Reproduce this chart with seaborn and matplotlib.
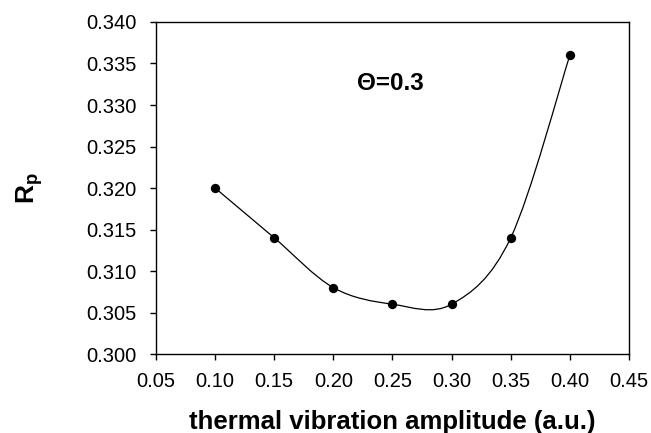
import matplotlib
matplotlib.use('Agg')
import matplotlib.pyplot as plt
import seaborn as sns
import pandas as pd
from matplotlib.path import Path
from matplotlib.patches import PathPatch
from matplotlib.ticker import FormatStrFormatter

# Data
amplitude = [0.10, 0.15, 0.20, 0.25, 0.30, 0.35, 0.40]
rp = [0.320, 0.314, 0.308, 0.306, 0.306, 0.314, 0.336]
x_ticks = [0.05, 0.10, 0.15, 0.20, 0.25, 0.30, 0.35, 0.40, 0.45]
y_ticks = [0.300, 0.305, 0.310, 0.315, 0.320, 0.325, 0.330, 0.335, 0.340]

df = pd.DataFrame({'amplitude': amplitude, 'rp': rp})

sns.set_style('white')
plt.rcParams['font.family'] = ['Liberation Sans', 'DejaVu Sans']
plt.rcParams['mathtext.fontset'] = 'custom'
plt.rcParams['mathtext.bf'] = 'Liberation Sans:bold'
plt.rcParams['mathtext.rm'] = 'Liberation Sans'

fig = plt.figure(figsize=(6.51, 4.33), dpi=100)
ax = fig.add_axes([0.2396, 0.1824, 0.7266, 0.7668])

# Smoothed line (Catmull-Rom style bezier, like spreadsheet "smoothed line")
pts = list(zip(df['amplitude'], df['rp']))
verts = [pts[0]]
codes = [Path.MOVETO]
n = len(pts)
for i in range(n - 1):
    p0 = pts[i - 1] if i > 0 else pts[i]
    p1 = pts[i]
    p2 = pts[i + 1]
    p3 = pts[i + 2] if i + 2 < n else pts[i + 1]
    c1 = (p1[0] + (p2[0] - p0[0]) / 6, p1[1] + (p2[1] - p0[1]) / 6)
    c2 = (p2[0] - (p3[0] - p1[0]) / 6, p2[1] - (p3[1] - p1[1]) / 6)
    verts += [c1, c2, p2]
    codes += [Path.CURVE4] * 3
ax.add_patch(PathPatch(Path(verts, codes), facecolor='none', edgecolor='black', lw=0.9))

sns.scatterplot(data=df, x='amplitude', y='rp', ax=ax, color='black', s=45,
                edgecolor='black', linewidth=0, zorder=3)

ax.set_xlim(0.05, 0.45)
ax.set_ylim(0.300, 0.340)
ax.set_xticks(x_ticks)
ax.set_yticks(y_ticks)
ax.xaxis.set_major_formatter(FormatStrFormatter('%.2f'))
ax.yaxis.set_major_formatter(FormatStrFormatter('%.3f'))
ax.tick_params(direction='out', length=4, width=1, labelsize=14.5, color='black',
               labelcolor='black', bottom=True, left=True)
ax.tick_params(axis='y', pad=10)
ax.tick_params(axis='x', pad=9)

for s in ax.spines.values():
    s.set_visible(True)
    s.set_color('black')
    s.set_linewidth(1)

ax.set_xlabel('thermal vibration amplitude (a.u.)', fontsize=18.5, fontweight='bold', color='black')
ax.set_ylabel(r'$\mathbf{R_p}$', fontsize=19, color='black')
ax.xaxis.set_label_coords(0.5, -0.17)
ax.yaxis.set_label_coords(-0.235, 0.5)
ax.text(0.248, 0.3326, '\u0398=0.3', fontsize=17.5, fontweight='bold', ha='center', va='center',
        color='black')

fig.savefig('out.png', dpi=100)
plt.close(fig)
